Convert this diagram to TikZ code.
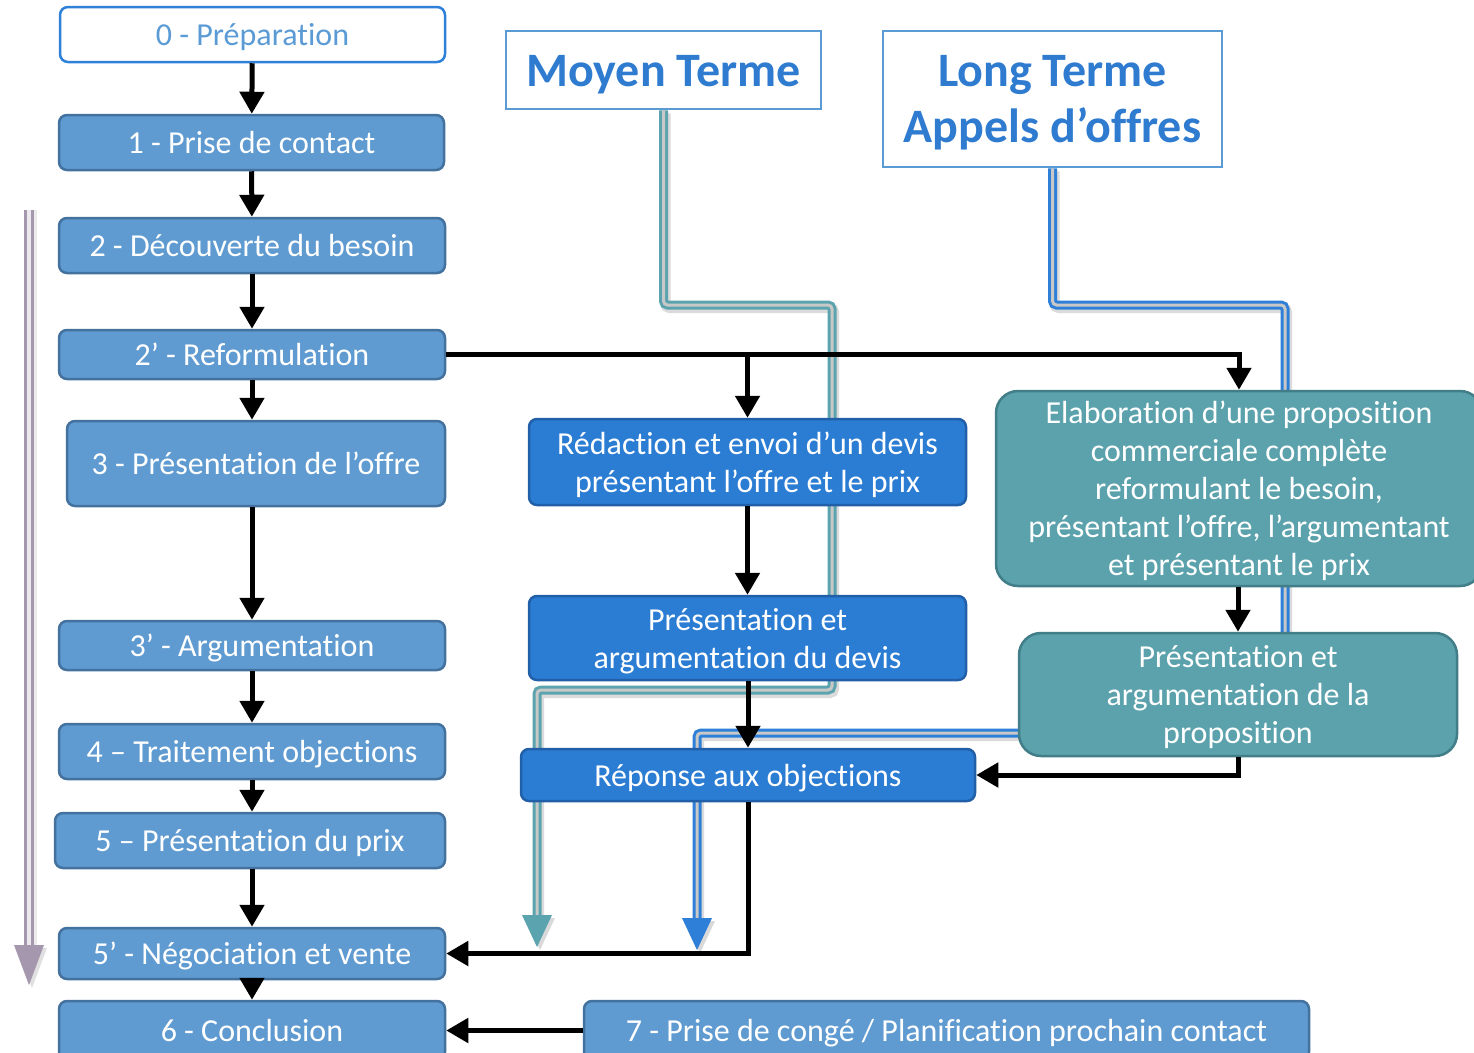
\documentclass[tikz,border=0pt]{standalone}
\usepackage{fontspec}
\setmainfont{Carlito}[Ligatures={NoCommon}]
\usetikzlibrary{arrows.meta}
\pgfdeclarelayer{bg}
\pgfsetlayers{bg,main}
\definecolor{stepfill}{HTML}{5F9BD1}
\definecolor{stepdraw}{HTML}{44729F}
\definecolor{devfill}{HTML}{2B7CD3}
\definecolor{devdraw}{HTML}{2160A8}
\definecolor{propfill}{HTML}{5BA2AD}
\definecolor{propdraw}{HTML}{417E88}
\definecolor{headdraw}{HTML}{5B9BD5}
\definecolor{headtext}{HTML}{2E7BD0}
\definecolor{prepdraw}{HTML}{2E80D8}
\definecolor{preptext}{HTML}{5B9BD5}
\definecolor{tealline}{HTML}{5BA3AE}
\definecolor{blueline}{HTML}{2E7FD8}
\definecolor{purpline}{HTML}{A597AD}
\definecolor{innergray}{HTML}{C8C8C8}
\tikzset{
  box/.style={rectangle, rounded corners=8pt, line width=2.5pt, text=white,
    font=\fontsize{32}{38}\selectfont, align=center, inner sep=0pt},
  oneline/.style={text height=30pt, text depth=7.6pt},
  multiline/.style={text depth=0pt},
  stepbox/.style={box, oneline, fill=stepfill, draw=stepdraw},
  devbox/.style={box, fill=devfill, draw=devdraw},
  propbox/.style={box, multiline, fill=propfill, draw=propdraw, rounded corners=22pt},
  prepbox/.style={box, oneline, fill=white, draw=prepdraw, text=preptext},
  headbox/.style={rectangle, line width=2.5pt, fill=white, draw=headdraw, text=headtext,
    font=\fontsize{48}{56}\selectfont\bfseries, align=center, inner sep=0pt},
  arr/.style={line width=5pt, -{Triangle[length=22pt,width=24pt]}},
  dbl/.style={line width=3pt, double distance=3pt, double=innergray, rounded corners=4pt},
  shadowline/.style={line width=10pt, draw=black!14, rounded corners=4pt},
}
\begin{document}
\begin{tikzpicture}[x=1pt,y=-1pt]
\useasboundingbox (0,0) rectangle (1474,1052);
\clip (0,0) rectangle (1474,1052);

% left column
\node[prepbox, minimum width=385pt, minimum height=55pt] (p0) at (252.5,34.5) {0 - Préparation};
\node[stepbox, minimum width=385pt, minimum height=55pt] (p1) at (251.5,142.5) {1 - Prise de contact};
\node[stepbox, minimum width=386pt, minimum height=55pt] (p2) at (252,245.5) {2 - Découverte du besoin};
\node[stepbox, minimum width=386pt, minimum height=49pt] (p2r) at (252,354.5) {2’ - Reformulation};
\node[stepbox, minimum width=378pt, minimum height=85pt] (p3) at (256,463.5) {3 - Présentation de l’offre};
\node[stepbox, minimum width=386pt, minimum height=49pt] (p3r) at (252,645.5) {3’ - Argumentation};
\node[stepbox, minimum width=386pt, minimum height=55pt] (p4) at (252,751.5) {4 – Traitement objections};
\node[stepbox, minimum width=390pt, minimum height=55pt] (p5) at (250,840.5) {5 – Présentation du prix};
\node[stepbox, minimum width=386pt, minimum height=51pt] (p5r) at (252,953.5) {5’ - Négociation et vente};
\node[stepbox, minimum width=386pt, minimum height=59pt] (p6) at (252,1030.5) {6 - Conclusion};
\node[stepbox, minimum width=725pt, minimum height=59pt] (p7) at (946.5,1030.5) {7 - Prise de congé / Planification prochain contact};

% headers
\node[headbox, text height=45pt, text depth=11.4pt, minimum width=315pt, minimum height=78pt] (moyen) at (663.5,70) {Moyen Terme};
\node[headbox, multiline, minimum width=339pt, minimum height=136pt] (longt) at (1052.5,99) {Long Terme\\Appels d’offres};

% middle column
\node[devbox, multiline, minimum width=437pt, minimum height=86pt] (redac) at (747.5,462) {Rédaction et envoi d’un devis\\présentant l’offre et le prix};
\node[devbox, multiline, minimum width=437pt, minimum height=84pt] (presdev) at (747.5,638) {Présentation et\\argumentation du devis};
\node[devbox, oneline, minimum width=454pt, minimum height=52pt] (rep) at (748,775) {Réponse aux objections};

% right column
\node[propbox, minimum width=486pt, minimum height=195pt] (elab) at (1239,488.5) {Elaboration d’une proposition\\commerciale complète\\reformulant le besoin,\\présentant l’offre, l’argumentant\\et présentant le prix};
\node[propbox, minimum width=438pt, minimum height=123pt] (prop) at (1238,694.5) {Présentation et\\argumentation de la\\proposition};

% background double lines
\coordinate (tealend) at (537,915);
\coordinate (blueend) at (697,918);
\coordinate (purpstart) at (29,210);
\coordinate (purpend) at (29,945);
\begin{pgfonlayer}{bg}
  \fill[white] (0,0) rectangle (1474,1052);
  % shadows
  \draw[shadowline] ([shift={(2,3)}]moyen.south) -- (665.5,308) -- (834,308) -- (834,693) -- (539,693) -- ([shift={(2,0)}]tealend);
  \draw[shadowline] ([shift={(2,3)}]longt.south) -- (1054.5,308) -- (1287,308) -- (1287,736) -- (699,736) -- ([shift={(2,0)}]blueend);
  \fill[black!15] (525,918) -- (555,918) -- (540,950) -- cycle;
  \fill[black!15] (685,921) -- (715,921) -- (700,953) -- cycle;
  \draw[line width=11pt, draw=black!8] ([shift={(2,0)}]purpstart) -- ([shift={(2,0)}]purpend);
  \fill[black!12] (17,948) -- (47,948) -- (32,988) -- cycle;
  % teal (Moyen Terme)
  \draw[dbl, draw=tealline] (moyen.south) -- (663.5,305) -- (832,305) -- (832,690) -- (537,690) -- (tealend);
  \fill[tealline] (522,915) -- (552,915) -- (537,947) -- cycle;
  % blue (Long Terme)
  \draw[dbl, draw=blueline] (longt.south) -- (1052.5,305) -- (1285,305) -- (1285,733) -- (697,733) -- (blueend);
  \fill[blueline] (682,918) -- (712,918) -- (697,950) -- cycle;
  % left process arrow
  \draw[line width=3pt, double distance=3.5pt, draw=purpline, double=purpline!20] (purpstart) -- (purpend);
  \fill[purpline] (14,945) -- (44,945) -- (29,985) -- cycle;
\end{pgfonlayer}

% black arrows left column
\draw[arr] (p0) -- (p1);
\draw[arr] (p1) -- (p2);
\draw[arr] (p2) -- (p2r);
\draw[arr] (p2r) -- (p2r.south |- p3.north);
\draw[arr] (p3.south -| p3r.north) -- (p3r);
\draw[arr] (p3r) -- (p4);
\draw[arr] (p4) -- (p5.north -| p4.south);
\draw[arr] (p5.south -| p5r.north) -- (p5r);
\draw[arr] (p5r) -- (p6);

% reformulation branch
\draw[arr] (p2r.east) -| (elab.north);
\draw[arr] (p2r.east -| redac.north) -- (redac.north);
\draw[arr] (redac) -- (presdev);
\draw[arr] (presdev.south -| rep.north) -- (rep.north);
\draw[arr] (elab.south -| prop.north) -- (prop.north);
\draw[arr] (prop.south) |- (rep.east);
\draw[arr] (rep.south) |- (p5r.east);
\draw[arr] (p7.west) -- (p6.east);
\end{tikzpicture}
\end{document}
